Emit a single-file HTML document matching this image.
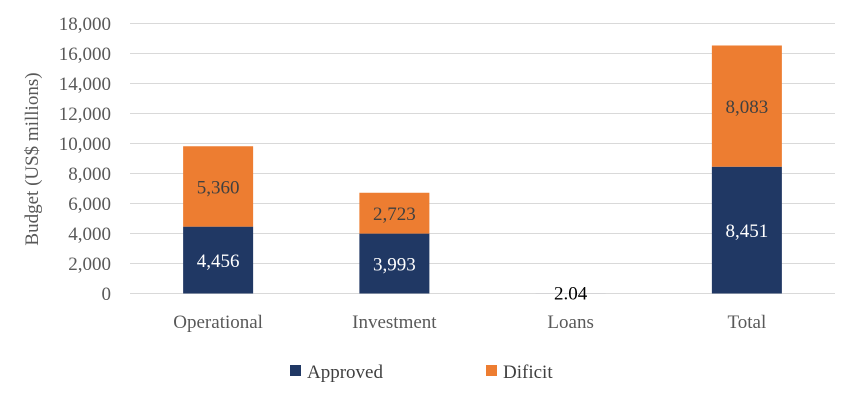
<!DOCTYPE html>
<html><head><meta charset="utf-8"><style>
body{margin:0;background:#fff;}
svg text{font-family:"Liberation Serif",serif;}
</style></head><body>
<svg id="chart" width="850" height="403">
<g id="grid"></g><g id="bars"></g><g id="labels"></g>
<text transform="translate(38,159) rotate(-90)" text-anchor="middle" font-size="19" fill="#595959">Budget (US$ millions)</text>
<g>
<rect x="290" y="365" width="11" height="11" fill="#203864"/>
<text x="307" y="378" font-size="19" fill="#404040">Approved</text>
<rect x="486" y="365" width="11" height="11" fill="#ED7D31"/>
<text x="503" y="378" font-size="19" fill="#404040">Dificit</text>
</g>
</svg>
<script>
const categories=["Operational","Investment","Loans","Total"];
const approved=[4456,3993,2.04,8451];
const deficit=[5360,2723,0,8083];
const approvedLabels=["4,456","3,993","2.04","8,451"];
const deficitLabels=["5,360","2,723","","8,083"];
const ticks=[0,2000,4000,6000,8000,10000,12000,14000,16000,18000];
const NS="http://www.w3.org/2000/svg";
const x0=130,x1=835,y0=293.5,y1=23.5,maxV=18000;
const y=v=>y0-(v/maxV)*(y0-y1);
const band=(x1-x0)/categories.length;
const cx=i=>x0+band*(i+0.5);
const bw=70;
function mk(tag,attrs,parent){const e=document.createElementNS(NS,tag);for(const k in attrs)e.setAttribute(k,attrs[k]);parent.appendChild(e);return e;}
const grid=document.getElementById('grid'),bars=document.getElementById('bars'),labels=document.getElementById('labels');
ticks.forEach(t=>{
  const l=mk('line',{x1:x0,x2:x1,y1:y(t),y2:y(t),stroke:'#d9d9d9','stroke-width':1},grid);
  
  
  const tx=mk('text',{x:111,y:y(t)+6.5,'text-anchor':'end','font-size':19,fill:'#595959'},grid);
  tx.textContent=t.toLocaleString('en-US');
  
  
});
categories.forEach((c,i)=>{
  const a=approved[i],d=deficit[i];
  const ra=mk('rect',{x:cx(i)-bw/2,y:y(a),width:bw,height:y0-y(a),fill:'#203864'},bars);
  
  
  if(d>0){
    const rd=mk('rect',{x:cx(i)-bw/2,y:y(a+d),width:bw,height:y(a)-y(a+d),fill:'#ED7D31'},bars);
    
    
    const td=mk('text',{x:cx(i),y:(y(a)+y(a+d))/2+7,'text-anchor':'middle','font-size':19,fill:'#404040'},labels);
    td.textContent=deficitLabels[i];
    
    
  }
  const small=(y0-y(a))<20;
  const ta=mk('text',{x:cx(i),y:small?y(a)+6:(y(a)+y0)/2+7,'text-anchor':'middle','font-size':19,fill:small?'#000':'#fff'},labels);
  ta.textContent=approvedLabels[i];
  
  
  const tc=mk('text',{x:cx(i),y:328,'text-anchor':'middle','font-size':19,fill:'#595959'},labels);
  tc.textContent=c;
  
  
});
</script>
</body></html>
